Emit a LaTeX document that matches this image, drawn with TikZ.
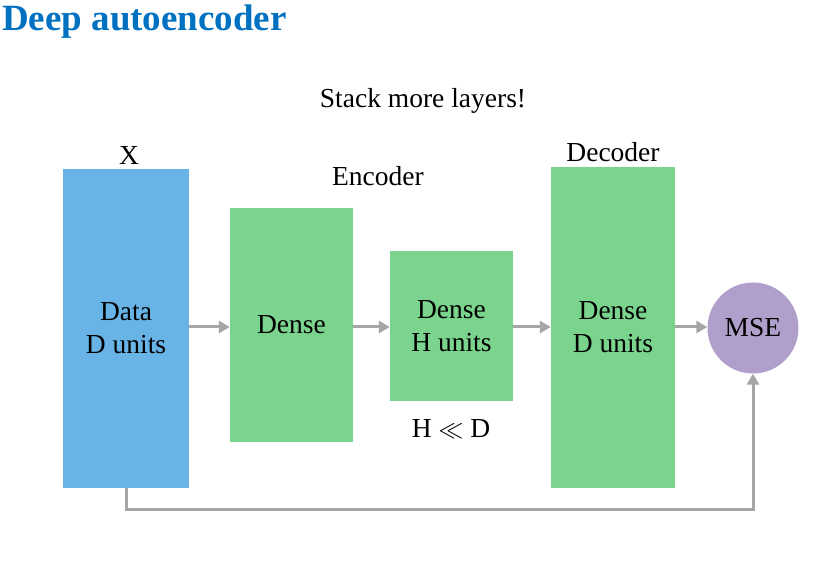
\documentclass[tikz,border=0pt]{standalone}
\usepackage{fontspec}
\setmainfont{Liberation Serif}
\usetikzlibrary{arrows.meta}
\definecolor{bblue}{HTML}{68B4E6}
\definecolor{bgreen}{HTML}{7BD48E}
\definecolor{bpurple}{HTML}{B19FCB}
\definecolor{agray}{HTML}{A6A6A6}
\definecolor{tblue}{HTML}{0070C0}
\begin{document}
\begin{tikzpicture}[x=1pt,y=-1pt,
  box/.style={draw=none,inner sep=0pt,align=center,font=\fontsize{27.5}{33}\selectfont},
  lbl/.style={inner sep=0pt,font=\fontsize{27.5}{31}\selectfont},
  conn/.style={draw=agray,line width=3pt,-{Triangle[length=11pt,width=12pt]}}]
\useasboundingbox (0,0) rectangle (814,561);
\node[anchor=west,inner sep=0pt,text=tblue,font=\fontsize{37}{40}\bfseries\selectfont] (title) at (2,22) {Deep autoencoder};
\node[lbl] (stack) at (423,101) {Stack more layers!};
\node[box,fill=bblue,minimum width=126pt,minimum height=319pt] (data) at (126,328.5) {Data\\D units};
\node[box,fill=bgreen,minimum width=123pt,minimum height=234pt] (enc) at (291.5,325) {Dense};
\node[box,fill=bgreen,minimum width=123pt,minimum height=150pt] (hid) at (451.5,326) {Dense\\H units};
\node[box,fill=bgreen,minimum width=124pt,minimum height=321pt] (dec) at (613,327.5) {Dense\\D units};
\node[box,circle,fill=bpurple,minimum size=91pt] (mse) at (753,328) {MSE};
\node[lbl] (x) at (129,155) {X};
\node[lbl] (enclbl) at (378,176) {Encoder};
\node[lbl] (declbl) at (613,152) {Decoder};
\node[lbl] (ll) at (451,429) {H $\ll$ D};
\draw[conn] (data.east |- 0,327) -- (enc.west |- 0,327);
\draw[conn] (enc.east |- 0,327) -- (hid.west |- 0,327);
\draw[conn] (hid.east |- 0,327) -- (dec.west |- 0,327);
\draw[conn] (dec.east |- 0,327) -- (mse.west |- 0,327);
\draw[conn] (data.south) -- ++(0,21) -| (mse.south);
\end{tikzpicture}
\end{document}
